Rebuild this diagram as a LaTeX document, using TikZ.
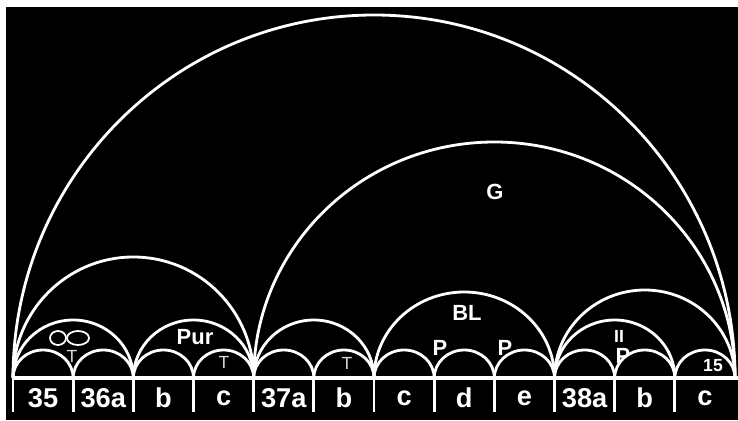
\documentclass[tikz,border=0pt]{standalone}
\usepackage{fontspec}
\setmainfont{Liberation Sans}
\usepackage{tikz}

\def\cw{60.17}
\def\xo{13}

\tikzset{
  arco/.style={draw=white, line width=1.6pt},
  base/.style={draw=white, line width=2.8pt},
  divisore/.style={draw=white, line width=1.6pt},
  etic/.style={text=white, inner sep=0pt, font=\bfseries\fontsize{15.5}{16}\selectfont},
  etin/.style={text=white, inner sep=0pt, font=\bfseries\fontsize{12.5}{13}\selectfont},
  etip/.style={text=white, inner sep=0pt, font=\bfseries\fontsize{10}{11}\selectfont},
  etit/.style={text=white!85!black, inner sep=0pt, font=\fontsize{10}{11}\selectfont}
}

\begin{document}
\begin{tikzpicture}[x=0.02cm, y=0.02cm]
        \useasboundingbox (0,0) rectangle (738,420);
        \fill[white] (0,0) rectangle (738,420);
        \fill[black] (6,0) rectangle (738,413);
        % linea di base e divisori
        \draw[base] (\xo,42) -- (738,42);
        \foreach \i in {0,...,11}
            \draw[divisore] ({\xo+\i*\cw},42) -- ({\xo+\i*\cw},8);
        % archi piccoli
        \foreach \i in {0,...,11}
            \draw[arco] ({\xo+\i*\cw},42) arc[start angle=180, end angle=0, x radius={\cw/2}, y radius=28];
        % archi doppi
        \foreach \i in {0,2,4,9}
            \draw[arco] ({\xo+\i*\cw},42) arc[start angle=180, end angle=0, x radius={\cw}, y radius=58];
        % archi tripli
        \draw[arco] ({\xo+6*\cw},42) arc[start angle=180, end angle=0, x radius={1.5*\cw}, y radius=86];
        \draw[arco] ({\xo+9*\cw},42) arc[start angle=180, end angle=0, x radius={1.5*\cw}, y radius=88];
        % archi grandi
        \draw[arco] (\xo,42) arc[start angle=180, end angle=0, x radius={2*\cw}, y radius=121];
        \draw[arco] ({\xo+4*\cw},42) arc[start angle=180, end angle=0, x radius={4*\cw}, y radius=236];
        \draw[arco] (\xo,42) arc[start angle=180, end angle=0, x radius={6*\cw}, y radius=363];
        % etichette colonne
        \foreach \t [count=\k from 0] in {35,36a,b,c,37a,b,c,d,e,38a,b,c}
            \node[etic] (col\k) at ({\xo+(\k+0.5)*\cw},22) {\t};
        % etichette interne
        \node[etin] (g) at (495,228) {G};
        \node[etin] (bl) at (467,107) {BL};
        \node[etin] (p1) at (440,72) {P};
        \node[etin] (p2) at (505,72) {P};
        \node[etin] (pur) at (195,83) {Pur};
        \node[etit] (t1) at (72,64) {T};
        \node[etit] (t2) at (224,58) {T};
        \node[etit] (t3) at (347,57) {T};
        \node[etip] (ii) at (619,84) {II};
        \node[etin] (p3) at (623,64) {P};
        \node[etip] (n15) at (713,54) {15};
        % ovali
        \draw[white, line width=1pt] (58,82) ellipse [x radius=8, y radius=7];
        \draw[white, line width=1pt] (78,82) ellipse [x radius=11, y radius=7];
    \end{tikzpicture}
\end{document}
